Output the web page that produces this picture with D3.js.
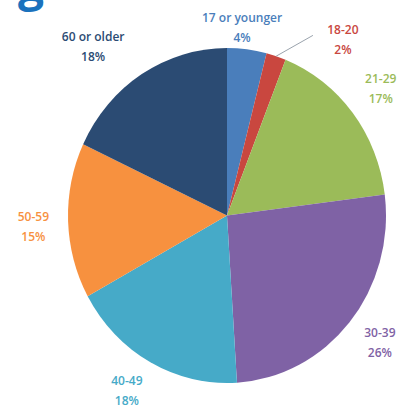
<!DOCTYPE html>
<html lang="en">
<head>
<meta charset="utf-8">
<title>Age</title>
<script src="https://d3js.org/d3.v7.min.js"></script>
<style>
  body { margin: 0; background: #fff; }
  svg { display: block; }
  .lbl { font-family: "Open Sans", Lato, sans-serif; font-weight: 600; font-size: 12px; }
</style>
</head>
<body>
<svg id="chart" width="400" height="410"></svg>
<script>
// data
var groups  = ["17 or younger", "18-20", "21-29", "30-39", "40-49", "50-59", "60 or older"];
var shares  = [4, 2, 17, 26, 18, 15, 18];
var colours = ["#4a7ebb", "#c9473f", "#9bbb59", "#7f62a5", "#46aac8", "#f7913f", "#2b4b73"];

// label placement: angle shift (deg) from slice middle, distance from centre
var labelShift = [-2.6, 15.5, -1.6, 0.2, 0.9, -1.6, -6.1];
var labelDist  = [188, 210, 199, 199, 202, 194, 215];

var W = 400, H = 410;
var cx = 227, cy = 215.5;
var R = 159, squash = 167.5 / 159;

var svg = d3.select("#chart");

// cropped title above the chart
svg.append("text")
  .attr("x", 18).attr("y", 1)
  .attr("font-family", "Open Sans, sans-serif")
  .attr("font-weight", 700)
  .attr("font-size", 46)
  .attr("fill", "#1b72bd")
  .text("g");

var pie = d3.pie().sort(null).value(function(d) { return d; });
var arcs = pie(shares);
var arc = d3.arc().innerRadius(0).outerRadius(R);

var g = svg.append("g")
  .attr("transform", "translate(" + cx + "," + cy + ") scale(1," + squash + ")");

g.selectAll("path")
  .data(arcs)
  .enter().append("path")
  .attr("d", arc)
  .attr("fill", function(d, i) { return colours[i]; });

function labelPoint(d, i) {
  var a = (d.startAngle + d.endAngle) / 2 + labelShift[i] * Math.PI / 180;
  return [cx + labelDist[i] * Math.sin(a), cy - labelDist[i] * Math.cos(a)];
}

// leader line for the thin 18-20 slice
var small = arcs[1];
var mid = (small.startAngle + small.endAngle) / 2;
var p = labelPoint(small, 1);
svg.append("path")
  .attr("d", d3.line()([
    [cx + R * Math.sin(mid), cy - R * squash * Math.cos(mid)],
    [p[0] - 30, p[1] - 5]
  ]))
  .attr("stroke", "#9aa3ad")
  .attr("stroke-width", 1)
  .attr("fill", "none");

var labels = svg.selectAll("text.lbl")
  .data(arcs)
  .enter().append("text")
  .attr("class", "lbl")
  .attr("text-anchor", "middle")
  .attr("fill", function(d, i) { return colours[i]; })
  .attr("transform", function(d, i) {
    var q = labelPoint(d, i);
    return "translate(" + q[0] + "," + q[1] + ")";
  });

labels.append("tspan")
  .attr("x", 0).attr("y", -6)
  .text(function(d, i) { return groups[i]; });

labels.append("tspan")
  .attr("x", 0).attr("y", 14)
  .text(function(d) { return d.data + "%"; });
</script>
</body>
</html>
